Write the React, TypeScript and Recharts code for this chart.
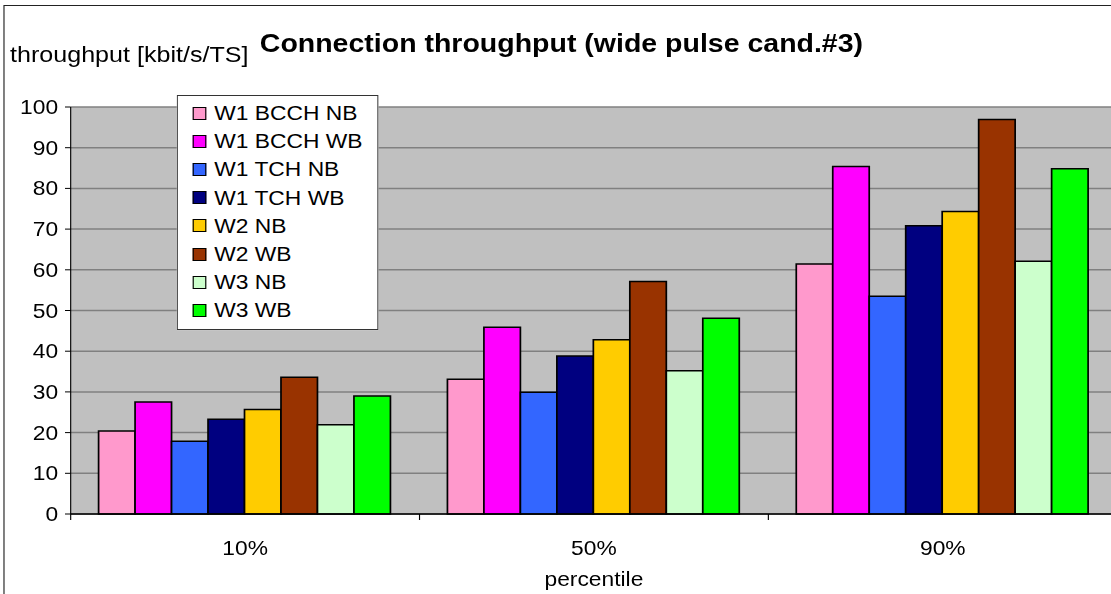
import React from "react";
import { BarChart, Bar, XAxis, YAxis, CartesianGrid } from "recharts";

// categories and series (throughput in kbit/s/TS)
const categories = ["10%", "50%", "90%"];
const w1BcchNb = [20.4, 33.1, 61.4];
const w1BcchWb = [27.5, 45.9, 85.4];
const w1TchNb = [17.9, 29.9, 53.5];
const w1TchWb = [23.3, 38.8, 70.8];
const w2Nb = [25.7, 42.8, 74.3];
const w2Wb = [33.6, 57.1, 96.9];
const w3Nb = [21.9, 35.2, 62.1];
const w3Wb = [29.0, 48.1, 84.8];
const yTicks = [0, 10, 20, 30, 40, 50, 60, 70, 80, 90, 100];

const series = [
  { key: "w1BcchNb", name: "W1 BCCH NB", color: "#FF99CC", values: w1BcchNb },
  { key: "w1BcchWb", name: "W1 BCCH WB", color: "#FF00FF", values: w1BcchWb },
  { key: "w1TchNb", name: "W1 TCH NB", color: "#3366FF", values: w1TchNb },
  { key: "w1TchWb", name: "W1 TCH WB", color: "#000080", values: w1TchWb },
  { key: "w2Nb", name: "W2 NB", color: "#FFCC00", values: w2Nb },
  { key: "w2Wb", name: "W2 WB", color: "#993300", values: w2Wb },
  { key: "w3Nb", name: "W3 NB", color: "#CCFFCC", values: w3Nb },
  { key: "w3Wb", name: "W3 WB", color: "#00FF00", values: w3Wb },
];

const data = categories.map((label, i) => {
  const row: Record<string, string | number> = { label };
  series.forEach((s) => {
    row[s.key] = s.values[i];
  });
  return row;
});

// the reference is drawn a bit wider than it is tall, so the whole chart is stretched
const STRETCH = 1.14;
const CHART_W = 995;
const CHART_H = 594;
const MARGIN = { top: 107, right: 15, bottom: 0, left: 2 };
const Y_AXIS_W = 60;
const X_AXIS_H = 80;
const BAND = (CHART_W - MARGIN.left - MARGIN.right - Y_AXIS_W) / categories.length;
const FONT = "Arial, 'Liberation Sans', sans-serif";

function CategoryTick(props: any) {
  const { x, y, payload, index } = props;
  const half = BAND / 2;
  return (
    <g>
      <line x1={x - half} y1={y} x2={x - half} y2={y + 6} stroke="#000" />
      {index === categories.length - 1 && (
        <line x1={x + half} y1={y} x2={x + half} y2={y + 6} stroke="#000" />
      )}
      <text x={x} y={y + 41} textAnchor="middle" fontSize={20} fill="#000">
        {payload.value}
      </text>
    </g>
  );
}

function LegendBox() {
  return (
    <div
      style={{
        position: "absolute",
        left: 155,
        top: 95,
        width: 177,
        boxSizing: "border-box",
        padding: "3px 0 4px 0",
        background: "#fff",
        border: "1px solid #333",
        zIndex: 2,
      }}
    >
      {series.map((s) => (
        <div key={s.key} style={{ display: "flex", alignItems: "center", height: 28.2 }}>
          <span
            style={{
              display: "inline-block",
              marginLeft: 13,
              width: 12,
              height: 13,
              boxSizing: "border-box",
              border: "1px solid #000",
              background: s.color,
            }}
          />
          <span style={{ marginLeft: 7, fontSize: 20, color: "#000", lineHeight: 1 }}>{s.name}</span>
        </div>
      ))}
    </div>
  );
}

export default function App() {
  return (
    <div
      style={{
        position: "fixed",
        left: 0,
        top: 0,
        width: 1111,
        height: 594,
        overflow: "hidden",
        background: "#fff",
        fontFamily: FONT,
      }}
    >
      <div
        style={{
          position: "relative",
          width: CHART_W,
          height: CHART_H,
          transform: `scaleX(${STRETCH})`,
          transformOrigin: "0 0",
        }}
      >
        <div
          style={{
            position: "absolute",
            left: 2.6,
            top: 5,
            width: 1100,
            height: 1000,
            border: "1px solid #222",
          }}
        />
        <div
          style={{
            position: "absolute",
            left: 0,
            top: 30.8,
            width: 985,
            textAlign: "center",
            fontSize: 25,
            fontWeight: "bold",
            lineHeight: "25px",
            color: "#000",
          }}
        >
          Connection throughput (wide pulse cand.#3)
        </div>
        <div
          style={{
            position: "absolute",
            left: 8.8,
            top: 44.4,
            fontSize: 22,
            lineHeight: "22px",
            color: "#000",
            whiteSpace: "nowrap",
          }}
        >
          throughput [kbit/s/TS]
        </div>
        <div style={{ position: "absolute", left: 0, top: 0 }}>
          <BarChart
            width={CHART_W}
            height={CHART_H}
            data={data}
            margin={MARGIN}
            barCategoryGap="8%"
            barGap={0}
          >
            <CartesianGrid
              vertical={false}
              fill="#C0C0C0"
              fillOpacity={1}
              stroke="#808080"
              strokeWidth={1.5}
            />
            <XAxis
              dataKey="label"
              height={X_AXIS_H}
              axisLine={{ stroke: "#000", strokeWidth: 1.5 }}
              tickLine={false}
              tickSize={0}
              tickMargin={0}
              interval={0}
              tick={<CategoryTick />}
              label={{ value: "percentile", position: "insideBottom", offset: 8, fontSize: 20, fill: "#000" }}
            />
            <YAxis
              width={Y_AXIS_W}
              domain={[0, 100]}
              ticks={yTicks}
              interval={0}
              axisLine={{ stroke: "#000" }}
              tickLine={{ stroke: "#000" }}
              tickSize={5}
              tickMargin={6}
              tick={{ fontSize: 20, fill: "#000" }}
            />
            {series.map((s) => (
              <Bar
                key={s.key}
                dataKey={s.key}
                name={s.name}
                fill={s.color}
                stroke="#000"
                strokeWidth={1.5}
                isAnimationActive={false}
              />
            ))}
          </BarChart>
        </div>
        <LegendBox />
      </div>
    </div>
  );
}
